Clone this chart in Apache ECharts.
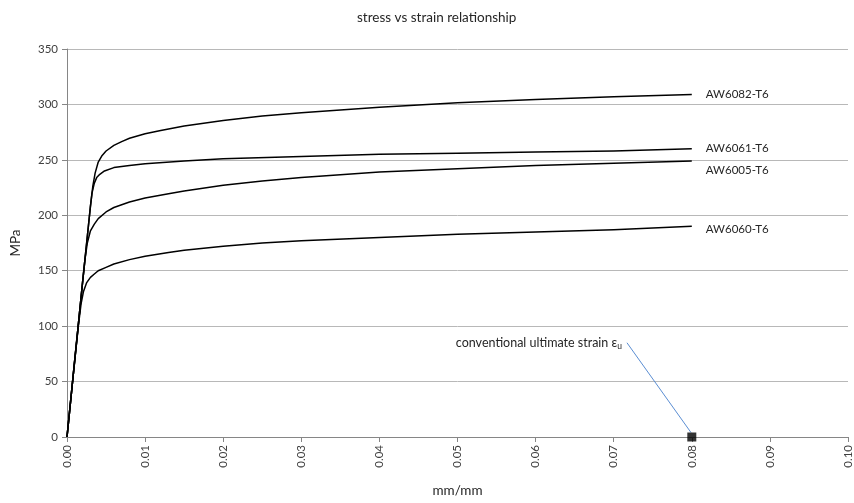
<!DOCTYPE html>
<html><head><meta charset="utf-8">
<script src="https://cdn.jsdelivr.net/npm/echarts@6/dist/echarts.min.js"></script>
<style>html,body{margin:0;padding:0;background:#fff}#c{width:854px;height:503px}</style>
</head><body><div id="c"></div>
<script>
const strain6082 = [0, 0.001, 0.002, 0.003, 0.0033, 0.0036, 0.004, 0.0045, 0.005, 0.006, 0.007, 0.008, 0.01, 0.012, 0.015, 0.02, 0.025, 0.03, 0.04, 0.05, 0.06, 0.07, 0.08];
const stress6082 = [0, 70, 140, 208, 226, 238, 248, 254, 258, 263, 266.5, 269.5, 273.5, 276.5, 280.5, 285.5, 289.5, 292.5, 297.5, 301.5, 304.5, 307, 309];
const strain6061 = [0, 0.001, 0.002, 0.003, 0.0032, 0.0035, 0.0038, 0.0042, 0.0048, 0.006, 0.008, 0.01, 0.015, 0.02, 0.03, 0.04, 0.05, 0.06, 0.07, 0.08];
const stress6061 = [0, 70, 140, 208, 220, 229, 234, 237, 240, 243, 245, 246.5, 249, 251, 253, 255, 256, 257, 258, 260];
const strain6005 = [0, 0.001, 0.002, 0.0023, 0.0026, 0.003, 0.0035, 0.004, 0.005, 0.006, 0.008, 0.01, 0.013, 0.015, 0.02, 0.025, 0.03, 0.04, 0.05, 0.06, 0.07, 0.08];
const stress6005 = [0, 70, 140, 160, 175, 186, 192, 197, 203, 207, 212, 215.5, 219.5, 222, 227, 231, 234, 239, 242, 245, 247, 249];
const strain6060 = [0, 0.001, 0.0015, 0.0018, 0.0021, 0.0025, 0.003, 0.0035, 0.004, 0.005, 0.006, 0.008, 0.01, 0.013, 0.015, 0.02, 0.025, 0.03, 0.04, 0.05, 0.06, 0.07, 0.08];
const stress6060 = [0, 70, 103, 120, 131, 139, 144, 147, 150, 153, 156, 160, 163, 166.5, 168.5, 172, 175, 177, 180, 183, 185, 187, 190];
const seriesNames = ['AW6082-T6', 'AW6061-T6', 'AW6005-T6', 'AW6060-T6'];
const ultimatePoint = [0.08, 0];
const leaderLine = [[0.0717, 85], [0.0799, 4]];
const annotationText = 'conventional ultimate strain ε';
const annotationSub = 'u';

const FONT = 'Lato, "Open Sans", sans-serif';
function pairs(xs, ys) { return xs.map((x, i) => [x, ys[i]]); }
const curves = [
  [strain6082, stress6082, 0],
  [strain6061, stress6061, 0],
  [strain6005, stress6005, 9],
  [strain6060, stress6060, 3]
];
const series = curves.map((c, i) => ({
  name: seriesNames[i],
  type: 'line',
  data: pairs(c[0], c[1]),
  smooth: false,
  showSymbol: false,
  lineStyle: { color: '#000', width: 1.5, join: 'round' },
  endLabel: {
    show: true,
    formatter: seriesNames[i],
    offset: [6, c[2]],
    fontFamily: FONT,
    fontSize: 11.5,
    color: '#262626'
  },
  z: 3
}));
series.push({
  type: 'line',
  data: [
    {
      value: leaderLine[0],
      label: {
        show: true,
        position: 'left',
        distance: 5,
        formatter: annotationText + '{sub|' + annotationSub + '}',
        fontFamily: FONT,
        fontSize: 12.5,
        color: '#262626',
        rich: { sub: { fontSize: 8.5, fontFamily: FONT, color: '#262626', padding: [6, 0, 0, 0] } }
      }
    },
    { value: leaderLine[1] }
  ],
  showSymbol: true,
  symbol: 'circle',
  symbolSize: 0.1,
  itemStyle: { color: 'rgba(0,0,0,0)' },
  lineStyle: { color: '#5B8ED3', width: 1 },
  z: 2
});
series.push({
  type: 'scatter',
  data: [ultimatePoint],
  symbol: 'rect',
  symbolSize: 9,
  itemStyle: { color: '#000' },
  z: 5
});

const chart = echarts.init(document.getElementById('c'), null, { renderer: 'canvas' });
chart.setOption({
  animation: false,
  backgroundColor: '#fff',
  title: {
    text: 'stress vs strain relationship',
    left: 352,
    top: 6,
    textStyle: { fontFamily: FONT, fontSize: 13.5, fontWeight: 'normal', color: '#262626' }
  },
  grid: { left: 67, right: 5, top: 49, bottom: 61 },
  xAxis: {
    type: 'value',
    min: 0, max: 0.1, interval: 0.01,
    name: 'mm/mm',
    nameLocation: 'middle',
    nameGap: 47,
    nameTextStyle: { fontFamily: FONT, fontSize: 13.5, color: '#262626' },
    axisLine: { show: true, lineStyle: { color: '#868686', width: 1 } },
    axisTick: { show: true, length: 5, lineStyle: { color: '#868686' } },
    axisLabel: {
      rotate: 90,
      formatter: v => v.toFixed(2),
      fontFamily: FONT, fontSize: 11.5, color: '#404040', margin: 8
    },
    splitLine: { show: false }
  },
  yAxis: {
    type: 'value',
    min: 0, max: 350, interval: 50,
    name: 'MPa',
    nameLocation: 'middle',
    nameGap: 44,
    nameRotate: 90,
    nameTextStyle: { fontFamily: FONT, fontSize: 13.5, color: '#262626' },
    axisLine: { show: true, lineStyle: { color: '#868686', width: 1 } },
    axisTick: { show: true, length: 5, lineStyle: { color: '#868686' } },
    axisLabel: { fontFamily: FONT, fontSize: 11.5, color: '#404040', margin: 9 },
    splitLine: { show: true, lineStyle: { color: '#b8b8b8', width: 1 } }
  },
  series: series
});
</script>
</body></html>
